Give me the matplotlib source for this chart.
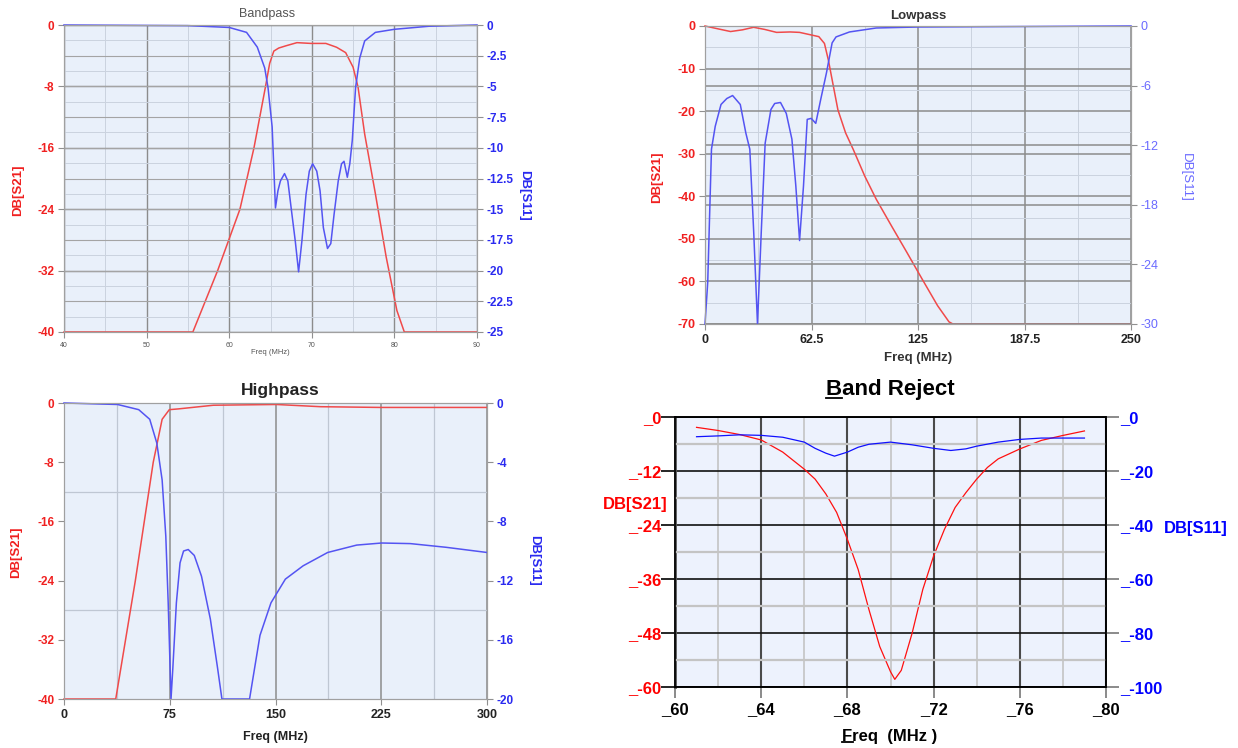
import numpy as np
import matplotlib.pyplot as plt
from matplotlib.ticker import MultipleLocator, FixedLocator
from matplotlib.lines import Line2D

plt.rcParams['font.family'] = ['Liberation Sans', 'DejaVu Sans']
plt.rcParams['axes.unicode_minus'] = False

W, H = 1238, 748

# ---- Bandpass (freq MHz, dB) ----
bp_f21 = [40, 55.6, 58.6, 61.3, 63.0, 64.4, 64.9, 65.4, 66.0, 66.9, 68.2, 69.9, 71.7, 73.0, 74.1, 75.0, 75.6, 76.4, 77.7, 79.0, 80.3, 81.2, 90]
bp_s21 = [-40, -40, -32, -24, -16, -8, -5, -3.4, -3.0, -2.7, -2.3, -2.4, -2.4, -2.9, -3.6, -5.5, -8.1, -14.2, -22, -30.2, -37.2, -40, -40]
bp_f11 = [40, 55, 60, 62.1, 63.4, 64.3, 64.7, 65.2, 65.4, 65.6, 65.9, 66.2, 66.7, 67.1, 67.5, 68.0, 68.4, 68.8,
          69.3, 69.7, 70.1, 70.6, 71.0, 71.4, 71.9, 72.3, 72.7, 73.2, 73.6, 73.9, 74.3, 74.6, 74.9, 75.3, 75.8,
          76.4, 77.7, 80, 84.2, 90]
bp_s11 = [0, -0.05, -0.2, -0.6, -1.8, -3.5, -5.1, -8.3, -11.6, -14.9, -13.5, -12.7, -12.1, -12.7, -14.9, -17.6, -20.1, -17.6,
          -13.8, -11.9, -11.3, -11.9, -13.5, -16.5, -18.2, -17.8, -15.4, -12.7, -11.3, -11.1, -12.4, -11.3, -9.4, -5.1, -2.7,
          -1.3, -0.6, -0.35, -0.1, 0]
bp_xticks = [40, 50, 60, 70, 80, 90]
bp_ticks21 = [0, -8, -16, -24, -32, -40]
bp_ticks11 = [0, -2.5, -5, -7.5, -10, -12.5, -15, -17.5, -20, -22.5, -25]

# ---- Lowpass ----
lp_f21 = [0, 8, 15, 22, 28.5, 35, 42, 50, 55.5, 62.3, 66.8, 70.1, 72.4, 74.6, 78, 82.5, 87, 93.8, 100.5, 109.5, 118.5,
          127.5, 136.5, 143.2, 145.5, 250]
lp_s21 = [0, -0.7, -1.3, -0.9, -0.3, -0.8, -1.5, -1.4, -1.5, -2.1, -2.5, -4.1, -8, -12.6, -19.7, -25.1, -29, -35.3, -40.7,
          -47, -53.2, -59.5, -65.7, -69.5, -70, -70]
lp_f11 = [0, 1.6, 3.8, 6, 9.4, 12.8, 16.2, 20.7, 24, 26.3, 28.6, 30.8, 33, 35.3, 38.7, 40.9, 44.3, 47.7, 51, 53.3, 55.5,
          57.8, 60, 62.3, 65, 67.9, 71.3, 74.6, 76.9, 84.8, 100.5, 125, 250]
lp_s11 = [-30, -25.8, -12.4, -10.1, -7.9, -7.3, -7.0, -7.9, -10.8, -12.4, -20.8, -30, -20.8, -11.8, -8.4, -7.8, -7.7, -8.8,
          -11.4, -16.1, -21.6, -16.1, -9.4, -9.3, -9.8, -7.4, -4.7, -1.7, -1.1, -0.6, -0.2, -0.1, 0]
lp_xticks = [0, 62.5, 125, 187.5, 250]
lp_ticks21 = [0, -10, -20, -30, -40, -50, -60, -70]
lp_ticks11 = [0, -6, -12, -18, -24, -30]

# ---- Highpass ----
hp_f21 = [0, 36.7, 50.6, 63.3, 69.6, 74.7, 81, 106, 150.6, 182, 225, 300]
hp_s21 = [-40, -40, -24, -8, -2.2, -0.9, -0.8, -0.3, -0.2, -0.5, -0.6, -0.6]
hp_f11 = [0, 38, 53, 60.8, 65.8, 69.6, 72.2, 73.9, 75.9, 77.2, 79.7, 82.3, 84.8, 88.1, 92.4, 97.5, 103.8, 108.9, 112,
          131.6, 134, 139, 146.8, 157, 169.6, 187, 207.6, 225.3, 245.6, 271, 300]
hp_s11 = [0, -0.1, -0.45, -1.1, -2.7, -5.2, -9, -13.5, -20, -17.9, -13.5, -10.8, -10.0, -9.9, -10.3, -11.7, -14.6, -17.9, -20,
          -20, -18.6, -15.7, -13.5, -11.9, -11.0, -10.1, -9.6, -9.46, -9.5, -9.75, -10.1]
hp_xticks = [0, 75, 150, 225, 300]
hp_ticks21 = [0, -8, -16, -24, -32, -40]
hp_ticks11 = [0, -4, -8, -12, -16, -20]

# ---- Band Reject ----
br_f21 = [61, 62, 63, 64, 65, 66, 66.5, 67, 67.5, 68, 68.5, 69, 69.5, 70, 70.2, 70.5, 71, 71.5, 72, 72.5, 73, 73.5, 74,
          74.5, 75, 76, 77, 78, 79]
br_s21 = [-2.3, -3.0, -3.9, -5.1, -7.8, -11.6, -13.8, -17.1, -21.2, -27.2, -33.9, -42.8, -51, -56.6, -58.3, -56.3, -48.1,
          -38.3, -30.9, -25, -20.1, -16.8, -13.8, -11.2, -9.3, -7.1, -5.2, -4.1, -3.1]
br_f11 = [61, 62, 63, 64, 65, 66, 66.5, 67, 67.4, 68, 68.5, 69, 70, 71, 72, 72.8, 73.5, 74, 75, 76, 77, 78, 79]
br_s11 = [-7.3, -7.0, -6.6, -6.8, -7.5, -9.3, -11.6, -13.4, -14.5, -13.0, -11.2, -10.1, -9.3, -10.3, -11.6, -12.4, -11.8,
          -10.8, -9.3, -8.3, -7.8, -7.8, -7.8]
br_xticks = [60, 64, 68, 72, 76, 80]
br_ticks21 = [0, -12, -24, -36, -48, -60]
br_ticks11 = [0, -20, -40, -60, -80, -100]

RED = '#f04a4a'
BLUE = '#5454f2'
RED_T = '#f02020'
BLUE_T = '#2a2af0'
BG = '#e9f0fa'


def rect(l, t, r, b):
    return [l / W, 1 - b / H, (r - l) / W, (b - t) / H]


def note(x, y, s, **kw):
    return fig.text(x / W, 1 - y / H, s, ha='center', va='center', **kw)


def fmt(v):
    return f'{v:g}'


fig = plt.figure(figsize=(W / 100, H / 100), dpi=100)


def soft_panel(box, xticks, t21, t11, lsize, rsize, xsize, rcolor, rweight, xweight, xcolor):
    ax = fig.add_axes(rect(*box))
    ax2 = ax.twinx()
    ax.set_facecolor(BG)
    ax.set_xlim(xticks[0], xticks[-1])
    ax.set_ylim(t21[-1], t21[0])
    ax2.set_ylim(t11[-1], t11[0])
    ax.set_xticks(xticks, [fmt(v) for v in xticks], fontsize=xsize, fontweight=xweight, color=xcolor)
    ax.set_yticks(t21, [fmt(v) for v in t21], fontsize=lsize, fontweight='bold', color=RED_T)
    ax2.set_yticks(t11, [fmt(v) for v in t11], fontsize=rsize, fontweight=rweight, color=rcolor)
    for a in (ax, ax2):
        for s in a.spines.values():
            s.set_color('#a0a0a0')
        a.tick_params(length=4, width=0.8, color='#909090', pad=3)
        a.tick_params(which='minor', length=0)
    ax.set_axisbelow(True)
    ax2.set_axisbelow(True)
    return ax, ax2


# ---------------- Bandpass ----------------
ax, ax2 = soft_panel((64, 25, 477, 332), bp_xticks, bp_ticks21, bp_ticks11, 8.5, 8.5, 5, BLUE_T, 'bold', 'normal', '#555555')
ax.xaxis.set_minor_locator(MultipleLocator(5))
ax.yaxis.set_minor_locator(MultipleLocator(2))
ax.grid(which='major', color='#8c8c8c', lw=1.0)
ax.grid(which='minor', color='#cbd3df', lw=0.7)
ax2.grid(which='major', axis='y', color='#a4a4a4', lw=0.8)
ax.plot(bp_f21, bp_s21, color=RED, lw=1.1, clip_on=False)
ax2.plot(bp_f11, bp_s11, color=BLUE, lw=1.1, clip_on=False)
note(267, 14, 'Bandpass', fontsize=9, color='#555555')
note(270, 352, 'Freq (MHz)', fontsize=5.5, color='#555555')
note(18, 190, 'DB[S21]', fontsize=9.5, fontweight='bold', color=RED_T, rotation=90)
note(524, 195, 'DB[S11]', fontsize=9.5, fontweight='bold', color=BLUE_T, rotation=270)

# ---------------- Lowpass ----------------
ax, ax2 = soft_panel((705, 26, 1131, 324), lp_xticks, lp_ticks21, lp_ticks11, 9, 9, 9, '#6a6aff', 'normal', 'bold', '#222222')
ax.xaxis.set_minor_locator(MultipleLocator(31.25))
ax.yaxis.set_minor_locator(MultipleLocator(5))
ax.grid(which='major', color='#8c8c8c', lw=1.1)
ax.grid(which='minor', color='#cbd3df', lw=0.7)
ax2.grid(which='major', axis='y', color='#8c8c8c', lw=1.1)
ax.plot(lp_f21, lp_s21, color=RED, lw=1.1, clip_on=False)
ax2.plot(lp_f11, lp_s11, color=BLUE, lw=1.1, clip_on=False)
note(918, 16, 'Lowpass', fontsize=9.5, fontweight='bold', color='#333333')
note(918, 358, 'Freq (MHz)', fontsize=9.5, fontweight='bold', color='#333333')
note(657, 177, 'DB[S21]', fontsize=9.5, fontweight='bold', color=RED_T, rotation=90)
note(1186, 177, 'DB[S11]', fontsize=9.5, fontweight='normal', color='#6a6aff', rotation=270)

# ---------------- Highpass ----------------
ax, ax2 = soft_panel((64, 403, 487, 699), hp_xticks, hp_ticks21, hp_ticks11, 8.5, 8.5, 9, BLUE_T, 'bold', 'bold', '#222222')
ax.xaxis.set_minor_locator(MultipleLocator(37.5))
ax.yaxis.set_minor_locator(FixedLocator([-12, -28]))
ax2.yaxis.set_minor_locator(FixedLocator([-4, -12, -20]))
ax.grid(which='major', axis='x', color='#8c8c8c', lw=1.1)
ax.grid(which='minor', color='#bfc7d3', lw=0.9)
ax2.grid(which='minor', axis='y', color='#6e6e6e', lw=1.3)
ax.plot(hp_f21, hp_s21, color=RED, lw=1.1, clip_on=False)
ax2.plot(hp_f11, hp_s11, color=BLUE, lw=1.1, clip_on=False)
note(280, 391, 'Highpass', fontsize=12.5, fontweight='bold', color='#222222')
note(275, 737, 'Freq (MHz)', fontsize=9, fontweight='bold', color='#222222')
note(16, 552, 'DB[S21]', fontsize=9.5, fontweight='bold', color=RED_T, rotation=90)
note(534, 560, 'DB[S11]', fontsize=9.5, fontweight='bold', color=BLUE_T, rotation=270)

# ---------------- Band Reject ----------------
ax = fig.add_axes(rect(675, 417, 1106, 687))
ax2 = ax.twinx()
ax.set_facecolor('#edf2fd')
ax.set_xlim(br_xticks[0], br_xticks[-1])
ax.set_ylim(br_ticks21[-1], br_ticks21[0])
ax2.set_ylim(br_ticks11[-1], br_ticks11[0])
bold12 = dict(fontsize=12, fontweight='bold')
ax.set_xticks(br_xticks, ['_' + fmt(v) for v in br_xticks], color='black', **bold12)
ax.set_yticks(br_ticks21, ['_' + fmt(v) for v in br_ticks21], color='#ff0000', **bold12)
ax2.set_yticks(br_ticks11, ['_' + fmt(v) for v in br_ticks11], color='#0000ff', **bold12)
ax.xaxis.set_minor_locator(MultipleLocator(2))
ax2.yaxis.set_minor_locator(FixedLocator([-10, -30, -50, -70, -90]))
ax.grid(which='major', axis='x', color='#4a4a4a', lw=1.5)
ax.grid(which='major', axis='y', color='#111111', lw=1.2)
ax.grid(which='minor', axis='x', color='#c4c4c4', lw=1.2)
ax2.grid(which='minor', axis='y', color='#c4c4c4', lw=1.6)
ax.set_axisbelow(True)
ax2.set_axisbelow(True)
for a in (ax, ax2):
    for s in a.spines.values():
        s.set_color('black')
        s.set_linewidth(1.2)
    a.tick_params(which='minor', length=0)
ax.spines['left'].set_color('#555555')
ax.spines['left'].set_linewidth(2)
ax.tick_params(axis='y', length=10, width=1.2, pad=0)
ax.tick_params(axis='x', length=8, width=1.2, color='#777777', pad=3)
ax2.tick_params(axis='y', length=9, width=1.2, color='#777777', pad=1)
ax.plot(br_f21, br_s21, color='#ff1010', lw=0.9, clip_on=False)
ax2.plot(br_f11, br_s11, color='#1010ff', lw=0.9, clip_on=False)
t_title = note(890, 390, 'Band Reject', fontsize=16, fontweight='bold', color='black')
t_xlab = note(890, 736, 'Freq  (MHz )', fontsize=12, fontweight='bold', color='black')
note(635, 505, 'DB[S21]', fontsize=12, fontweight='bold', color='#ff0000')
note(1196, 528, 'DB[S11]', fontsize=12, fontweight='bold', color='#0000ff')


def underline_first(txt):
    fig.canvas.draw()
    r = fig.canvas.get_renderer()
    bb = txt.get_window_extent(r)
    probe = fig.text(0, 0, txt.get_text()[0], fontproperties=txt.get_fontproperties())
    w = probe.get_window_extent(r).width
    probe.remove()
    size_px = txt.get_fontsize() * fig.dpi / 72
    y = bb.y0 + 0.1 * size_px
    fw, fh = fig.bbox.width, fig.bbox.height
    fig.add_artist(Line2D([bb.x0 / fw, (bb.x0 + w) / fw], [y / fh, y / fh],
                          transform=fig.transFigure, color='black', lw=1.3))


underline_first(t_title)
underline_first(t_xlab)

fig.savefig('out.png', dpi=100)
